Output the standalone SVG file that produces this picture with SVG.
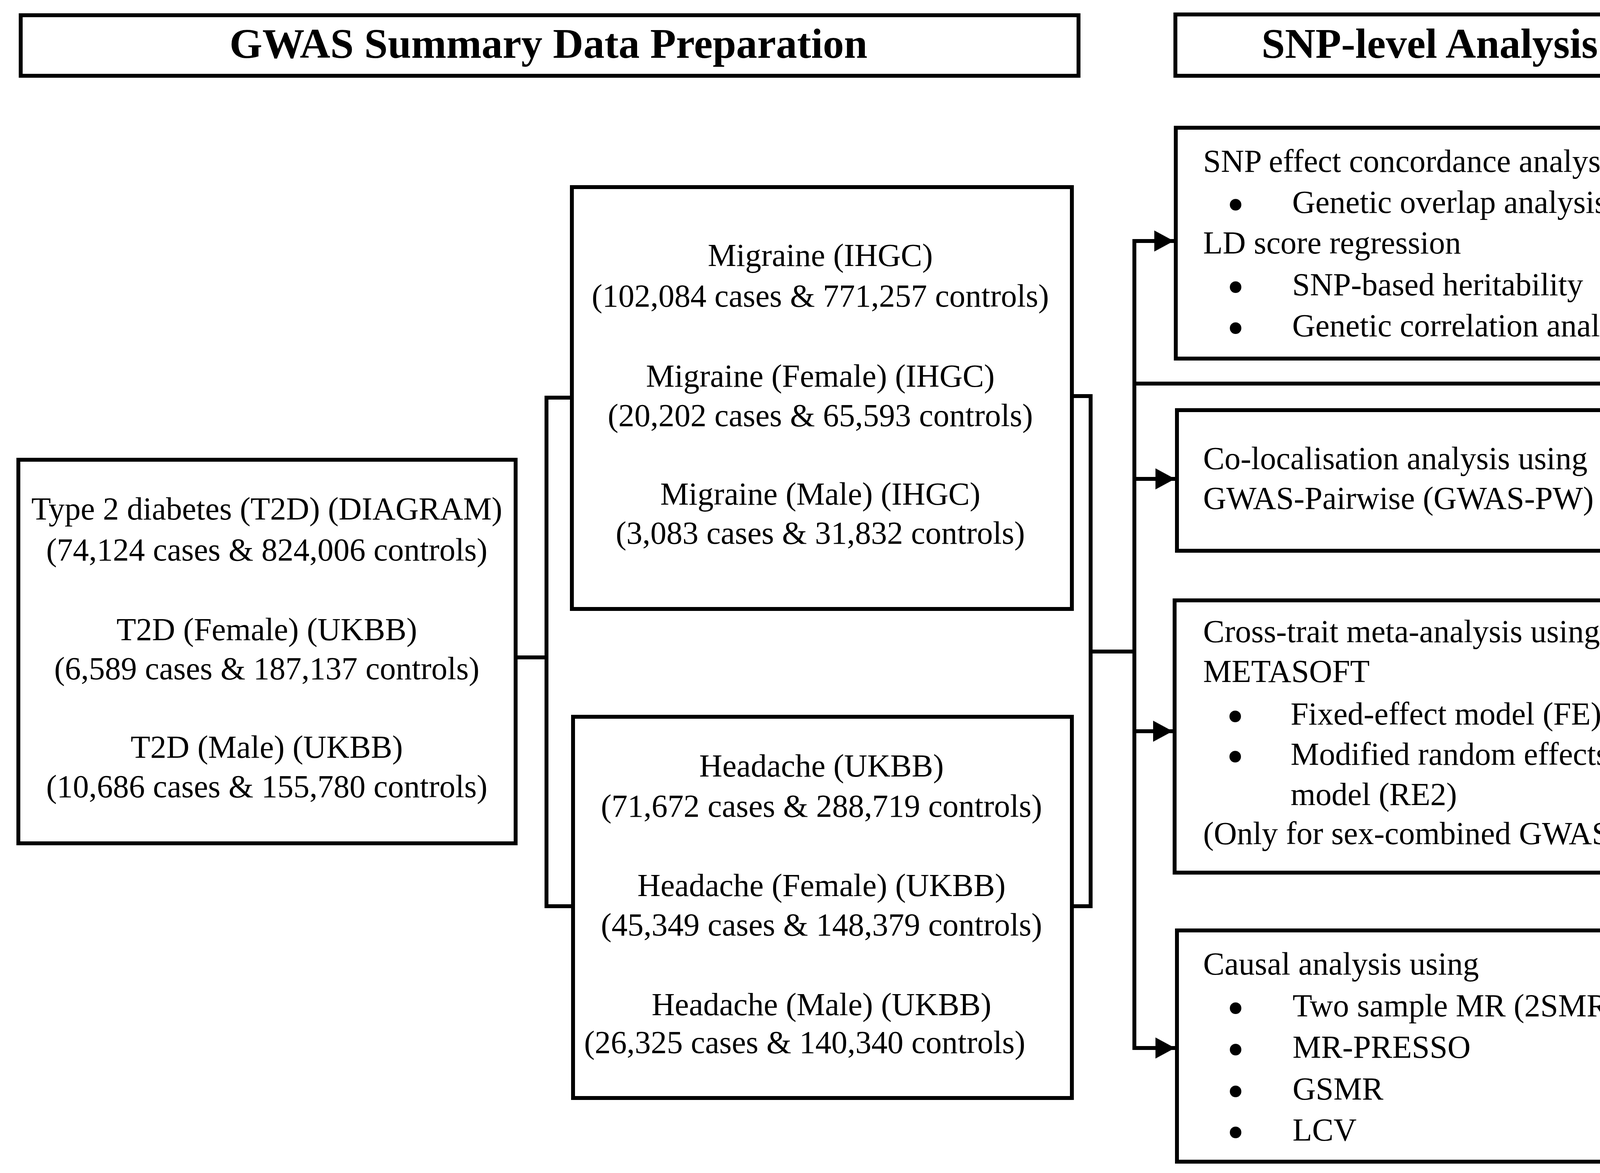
<svg xmlns="http://www.w3.org/2000/svg" width="6236" height="3003" viewBox="0 0 6236 3003">
<style>
.box{fill:#fff;stroke:#000;stroke-width:10}
.conn{fill:none;stroke:#000;stroke-width:10;stroke-linejoin:miter}
text{font-family:"Liberation Serif","Times New Roman",serif;font-size:82px;fill:#000}
.c{text-anchor:middle}
.h{font-weight:bold;font-size:108px;text-anchor:middle}
.bl{text-anchor:middle;stroke:#000;stroke-width:10;stroke-linejoin:round}
</style>
<defs>
<marker id="ah" viewBox="0 0 50 54" refX="50" refY="27" markerWidth="50" markerHeight="54" markerUnits="userSpaceOnUse" orient="auto">
<path d="M0,0 L50,27 L0,54 z" fill="#000"/>
</marker>
</defs>
<rect width="6236" height="3003" fill="#fff"/>
<g id="connectors">
<path class="conn" d="M1464,1018 H1399 V2320 H1467"/>
<path class="conn" d="M1320,1683 H1399"/>
<path class="conn" d="M2744,1014 H2792 V2320 H2744"/>
<path class="conn" d="M2792,1668 H2904"/>
<path class="conn" d="M2904,612 V2688"/>
<path class="conn" d="M2899,617 H3005" marker-end="url(#ah)"/>
<path class="conn" d="M2899,1226 H3008" marker-end="url(#ah)"/>
<path class="conn" d="M2899,1872 H3002" marker-end="url(#ah)"/>
<path class="conn" d="M2899,2683 H3008" marker-end="url(#ah)"/>
<path class="conn" d="M2899,982 H4624" marker-end="url(#ah)"/>
<path class="conn" d="M5412,1118 V1267" marker-end="url(#ah)"/>
</g>
<g id="title-gwas">
<rect class="box" x="53" y="39" width="2708" height="155"/>
<text class="h" x="1404" y="148">GWAS Summary Data Preparation</text>
</g>
<g id="title-snp">
<rect class="box" x="3009" y="37" width="1308" height="157"/>
<text class="h" x="3660" y="148">SNP-level Analysis</text>
</g>
<g id="title-gene">
<rect class="box" x="4628" y="31" width="1572" height="163"/>
<text class="h" x="5410" y="148">Gene-level Analysis</text>
</g>
<g id="t2d">
<rect class="box" x="47" y="1177" width="1273" height="982"/>
<text class="c" x="683" y="1330">Type 2 diabetes (T2D) (DIAGRAM)</text>
<text class="c" x="683" y="1435">(74,124 cases &amp; 824,006 controls)</text>
<text class="c" x="683" y="1639">T2D (Female) (UKBB)</text>
<text class="c" x="683" y="1739">(6,589 cases &amp; 187,137 controls)</text>
<text class="c" x="683" y="1940">T2D (Male) (UKBB)</text>
<text class="c" x="683" y="2041">(10,686 cases &amp; 155,780 controls)</text>
</g>
<g id="migraine">
<rect class="box" x="1464" y="479" width="1280" height="1080"/>
<text class="c" x="2100" y="681">Migraine (IHGC)</text>
<text class="c" x="2100" y="785">(102,084 cases &amp; 771,257 controls)</text>
<text class="c" x="2100" y="990">Migraine (Female) (IHGC)</text>
<text class="c" x="2100" y="1091">(20,202 cases &amp; 65,593 controls)</text>
<text class="c" x="2100" y="1292">Migraine (Male) (IHGC)</text>
<text class="c" x="2100" y="1392">(3,083 cases &amp; 31,832 controls)</text>
</g>
<g id="headache">
<rect class="box" x="1467" y="1835" width="1277" height="976"/>
<text class="c" x="2103" y="1988">Headache (UKBB)</text>
<text class="c" x="2103" y="2091">(71,672 cases &amp; 288,719 controls)</text>
<text class="c" x="2103" y="2294">Headache (Female) (UKBB)</text>
<text class="c" x="2103" y="2395">(45,349 cases &amp; 148,379 controls)</text>
<text class="c" x="2103" y="2599">Headache (Male) (UKBB)</text>
<text class="c" x="2060" y="2696">(26,325 cases &amp; 140,340 controls)</text>
</g>
<g id="snp-concordance">
<rect class="box" x="3010" y="327" width="1302" height="591"/>
<text x="3080" y="440">SNP effect concordance analysis</text>
<text class="bl" x="3163" y="552">•</text>
<text x="3308" y="545">Genetic overlap analysis</text>
<text x="3080" y="649">LD score regression</text>
<text class="bl" x="3163" y="763">•</text>
<text x="3308" y="756">SNP-based heritability</text>
<text class="bl" x="3163" y="868">•</text>
<text x="3308" y="861">Genetic correlation analysis</text>
</g>
<g id="colocalisation">
<rect class="box" x="3013" y="1050" width="1300" height="360"/>
<text x="3080" y="1201">Co-localisation analysis using</text>
<text x="3080" y="1303">GWAS-Pairwise (GWAS-PW)</text>
</g>
<g id="meta-analysis">
<rect class="box" x="3007" y="1537" width="1306" height="697"/>
<text x="3080" y="1644">Cross-trait meta-analysis using</text>
<text x="3080" y="1746">METASOFT</text>
<text class="bl" x="3162" y="1862">•</text>
<text x="3304" y="1855">Fixed-effect model (FE)</text>
<text class="bl" x="3162" y="1965">•</text>
<text x="3304" y="1958">Modified random effects</text>
<text x="3304" y="2061">model (RE2)</text>
<text x="3080" y="2161">(Only for sex-combined GWAS)</text>
</g>
<g id="causal">
<rect class="box" x="3013" y="2382" width="1304" height="592"/>
<text x="3080" y="2495">Causal analysis using</text>
<text class="bl" x="3163" y="2609">•</text>
<text x="3309" y="2602">Two sample MR (2SMR)</text>
<text class="bl" x="3163" y="2715">•</text>
<text x="3309" y="2708">MR-PRESSO</text>
<text class="bl" x="3163" y="2822">•</text>
<text x="3309" y="2815">GSMR</text>
<text class="bl" x="3163" y="2927">•</text>
<text x="3309" y="2920">LCV</text>
</g>
<g id="gene-based">
<rect class="box" x="4629" y="321" width="1578" height="797"/>
<text x="4696" y="476">Gene-based analysis using GATES and</text>
<text x="4696" y="578">GEC</text>
<text class="bl" x="4779" y="691">•</text>
<text x="4922" y="684">Independent gene-based test</text>
<text class="bl" x="4779" y="798">•</text>
<text x="4922" y="791">Assessing gene-level genetic</text>
<text x="4922" y="897">overlap</text>
<text class="bl" x="4779" y="1009">•</text>
<text x="4922" y="1002">Identifying shared significant genes</text>
</g>
<g id="pathway">
<rect class="box" x="4629" y="1272" width="1578" height="598"/>
<text x="4702" y="1378">Pathway analysis using g: Profiler</text>
<text class="bl" x="4783" y="1490">•</text>
<text x="4925" y="1483">Gene ontology</text>
<text class="bl" x="4783" y="1593">•</text>
<text x="4925" y="1586">KEGG</text>
<text class="bl" x="4783" y="1694">•</text>
<text x="4925" y="1687">Wiki pathway</text>
</g>
</svg>
